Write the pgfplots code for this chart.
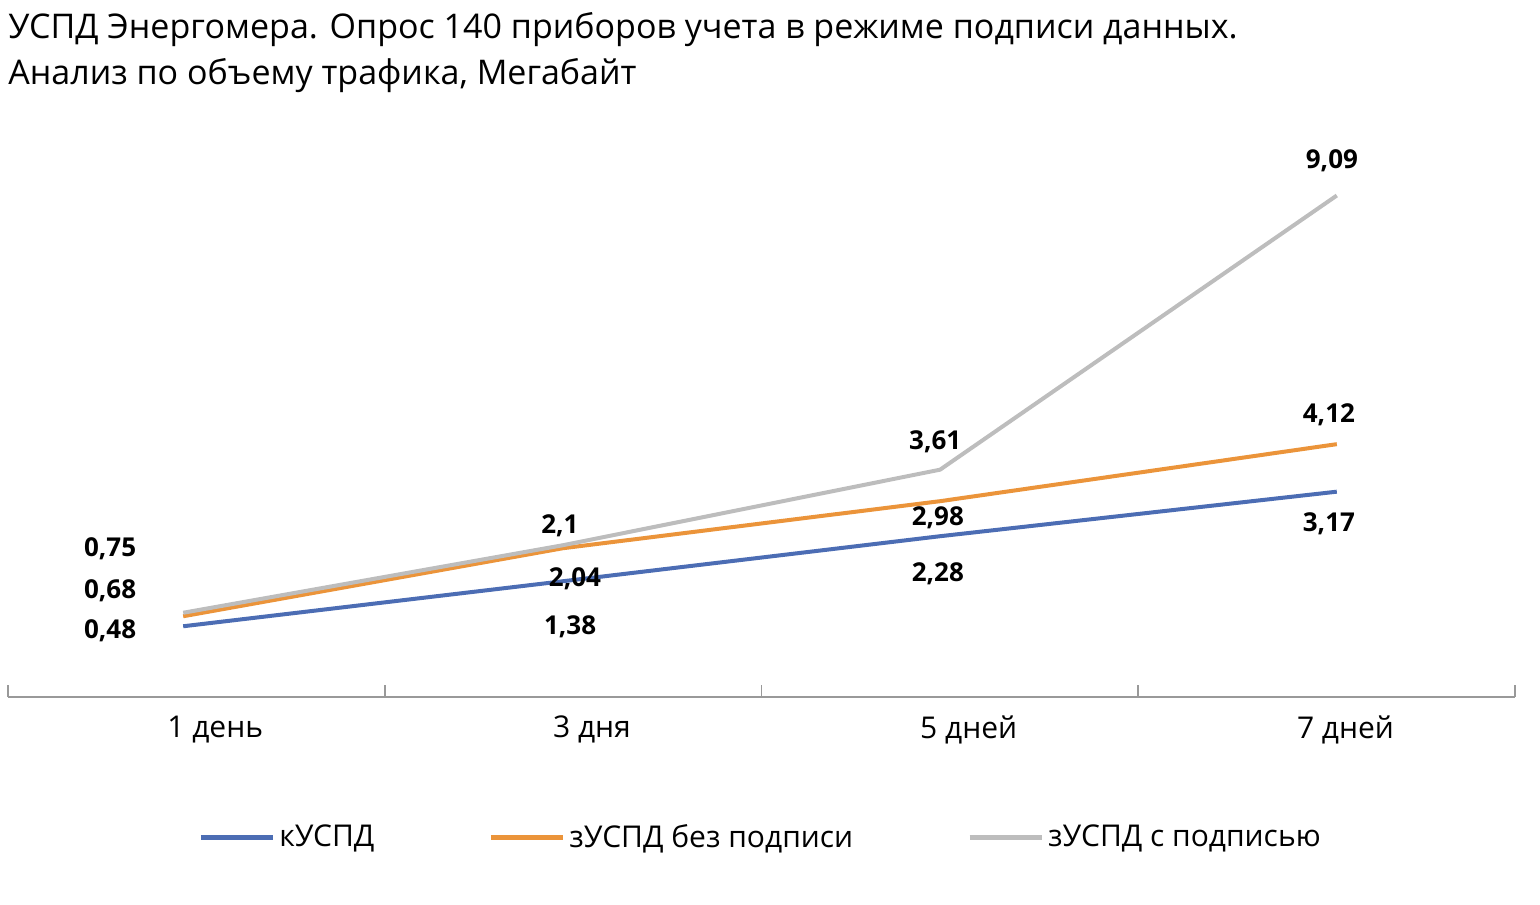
\documentclass[border=0pt]{standalone}
\usepackage{pgfplots}
\pgfplotsset{compat=1.18}
\usepackage{fontspec}
\setmainfont{Open Sans}
\definecolor{cb}{HTML}{4C6DB4}
\definecolor{co}{HTML}{EB943A}
\definecolor{cg}{HTML}{BDBDBD}
\begin{document}
\begin{tikzpicture}
\begin{axis}[name=ax,at={(0,0)},anchor=south west,scale only axis,width=753.5pt,height=273.5pt,
 xmin=-0.5,xmax=3.5,ymin=-0.934,ymax=10,
 axis y line=none, axis x line*=bottom,
 axis line style={color=gray!80,line width=0.8pt,-},
 xtick={-0.5,0.5,1.5,2.5,3.5}, xticklabels={}, major tick length=6pt,
 tick style={color=gray!80,line width=0.8pt}, xtick pos=bottom, xtick align=inside,
 extra x ticks={0.05,1.05,2.05,3.05}, extra x tick labels={1 день,3 дня,5 дней,7 дней},
 extra x tick style={major tick length=0pt, tick label style={font=\fontsize{15}{18}\selectfont, yshift=-6pt}},
 clip=false,
 legend style={at={(0.5,-0.257)},anchor=center,draw=none,legend columns=3,font=\fontsize{15}{18}\selectfont,
   /tikz/every even column/.append style={column sep=55pt}},
 legend image code/.code={\draw[#1,line width=2.5pt] (0pt,0pt) -- (36pt,0pt);},
]
\addplot[cb,line width=2pt] coordinates {(-0.035,0.48)(0.973,1.38)(1.974,2.28)(3.027,3.17)};
\addlegendentry{кУСПД}
\addplot[co,line width=2pt] coordinates {(-0.035,0.68)(0.973,2.04)(1.974,2.98)(3.027,4.12)};
\addlegendentry{зУСПД без подписи}
\addplot[cg,line width=2pt] coordinates {(-0.035,0.75)(0.973,2.1)(1.974,3.61)(3.027,9.09)};
\addlegendentry{зУСПД с подписью}
\addplot[draw=none,forget plot,nodes near coords,point meta=explicit symbolic,
  every node near coord/.append style={anchor=center,font=\bfseries\fontsize{13}{15}\selectfont}]
 coordinates {(-0.229,0.40)[0,48] (-0.229,1.19)[0,68] (-0.229,2.03)[0,75]
 (0.992,0.48)[1,38] (1.005,1.43)[2,04] (0.965,2.49)[2,1]
 (1.968,1.53)[2,28] (1.968,2.64)[2,98] (1.961,4.16)[3,61]
 (3.006,2.52)[3,17] (3.006,4.71)[4,12] (3.014,9.78)[9,09]};
\end{axis}
\node[anchor=north west,align=left,font=\fontsize{17}{23}\selectfont,inner sep=0pt] at ([xshift=0pt,yshift=342.5pt]ax.south west)
 {УСПД Энергомера. Опрос 140 приборов учета в режиме подписи данных.\\Анализ по объему трафика, Мегабайт};
\pgfresetboundingbox
\path[use as bounding box] ([xshift=-4pt,yshift=-103.5pt]ax.south west) rectangle ([xshift=766pt,yshift=348.5pt]ax.south west);
\end{tikzpicture}
\end{document}
